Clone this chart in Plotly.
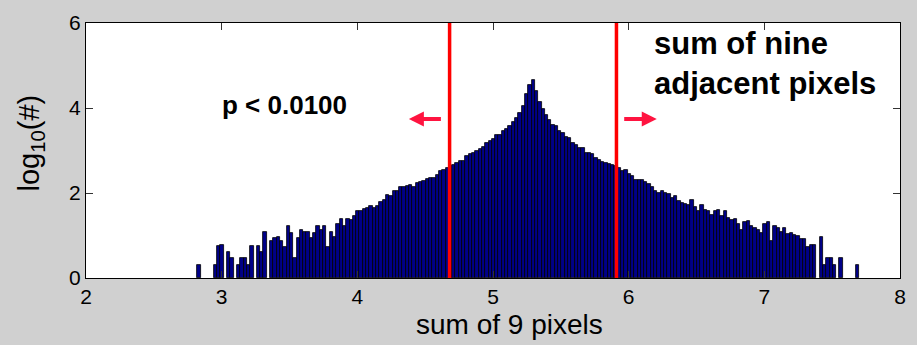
import numpy as np
import plotly.graph_objects as go

# ---- data: log10 counts per histogram bin (200 bins) ----
bin_start = 2.82
bin_width = 0.0244

seg_a = [0.30, 0, 0, 0, 0, 0.30, 0.75, 0.78, 0, 0.62, 0.48, 0, 0.30, 0.48, 0.48, 0.30,
         0.75, 0, 0.75, 0.62, 1.08, 0, 0.87, 0.93, 0.96, 0.87, 0.74, 1.22, 1.06, 0.48,
         0.93, 1.12, 1.08]
seg_b = [1.08, 0.93, 1.06, 1.22, 1.14, 1.22, 0.74, 1.08, 0.97, 1.27, 1.40, 1.22, 1.40,
         1.36, 1.45, 1.58, 1.58, 1.62, 1.65, 1.70, 1.65, 1.70, 1.80, 1.84, 1.96, 1.92,
         2.04, 2.05, 2.14, 2.14, 2.16, 2.19, 2.14, 2.24, 2.27]
seg_c = [2.28, 2.32, 2.35, 2.35, 2.43, 2.51, 2.55, 2.59, 2.64, 2.67, 2.70, 2.75, 2.75,
         2.88, 2.91, 2.95, 2.98, 3.03, 3.09, 3.17, 3.22, 3.27, 3.36, 3.37, 3.45, 3.51,
         3.58, 3.68, 3.77, 3.88, 4.05, 4.32, 4.53, 4.65, 4.40]
seg_d = [4.15, 3.97, 3.84, 3.72, 3.61, 3.57, 3.45, 3.42, 3.32, 3.30, 3.17, 3.12, 3.07,
         3.05, 2.95, 2.95, 2.91, 2.82, 2.78, 2.72, 2.70, 2.69, 2.66, 2.64, 2.58, 2.51,
         2.54, 2.45, 2.39, 2.30, 2.30, 2.30, 2.25, 2.21]
seg_e = [2.15, 2.05, 1.99, 2.05, 2.01, 1.97, 1.88, 1.92, 1.82, 1.76, 1.75, 1.71, 1.83,
         1.66, 1.57, 1.71, 1.61, 1.57, 1.48, 1.57, 1.61, 1.45, 1.57, 1.42, 1.37, 1.40,
         1.26, 1.14, 1.32, 1.35, 1.22, 1.18, 1.12, 1.06]
seg_f = [1.26, 1.32, 0.88, 1.22, 1.18, 1.08, 1.18, 1.03, 1.06, 1.01, 0.98, 0.92, 0.92,
         0.74, 0.78, 0.78, 0, 0.97, 0.30, 0.48, 0.48, 0.30, 0, 0.48, 0, 0, 0, 0, 0.30]

log_counts = seg_a + seg_b + seg_c + seg_d + seg_e + seg_f

thresholds = [4.68, 5.91]          # red cut-off lines
arrow_y = 3.74
left_arrow = (4.627, 4.38)          # tail, head
right_arrow = (5.956, 6.207)        # tail, head

x_ticks = [2, 3, 4, 5, 6, 7, 8]
y_ticks = [0, 2, 4, 6]

BG = "#d0d0d0"

# ---- figure ----
n = len(log_counts)
centers = bin_start + bin_width * (np.arange(n) + 0.5)
heights = [v if v > 0 else None for v in log_counts]

fig = go.Figure()
fig.add_trace(go.Bar(
    x=centers, y=heights, width=bin_width,
    marker=dict(color="#000088", line=dict(color="black", width=0.8)),
    showlegend=False, hoverinfo="skip",
))

for t in thresholds:
    fig.add_shape(type="line", x0=t, x1=t, xref="x", y0=0, y1=1, yref="paper",
                  line=dict(color="#ff0000", width=3.5))

arrow_col = "#ff1440"
for tail, head in (left_arrow, right_arrow):
    fig.add_annotation(x=head, y=arrow_y, ax=tail, ay=arrow_y, axref="x", ayref="y",
                       xref="x", yref="y", text="", showarrow=True,
                       arrowhead=2, arrowwidth=4, arrowsize=0.75, arrowcolor=arrow_col)

font_fam = "Liberation Sans, Arial, sans-serif"
fig.add_annotation(x=3.46, y=4.08, xref="x", yref="y", text="<b>p < 0.0100</b>",
                   showarrow=False, font=dict(family=font_fam, size=26, color="black"),
                   xanchor="center", yanchor="middle")
fig.add_annotation(x=6.17, y=5.05, xref="x", yref="y",
                   text="<b>sum of nine<br>adjacent pixels</b>",
                   showarrow=False, font=dict(family=font_fam, size=31, color="black"),
                   xanchor="left", yanchor="middle", align="left")

# axis titles
fig.add_annotation(x=0.52, y=-0.181, xref="paper", yref="paper", text="sum of 9 pixels",
                   showarrow=False, font=dict(family=font_fam, size=28, color="black"),
                   xanchor="center", yanchor="middle")
fig.add_annotation(x=-0.068, y=0.53, xref="paper", yref="paper",
                   text="log<sub>10</sub>(#)", textangle=-90,
                   showarrow=False, font=dict(family=font_fam, size=29, color="black"),
                   xanchor="center", yanchor="middle")

axis_common = dict(showline=True, linecolor="black", linewidth=1, mirror="allticks",
                   ticks="inside", ticklen=7, tickcolor="#333333", tickwidth=1,
                   showgrid=False, zeroline=False,
                   tickfont=dict(family=font_fam, size=21, color="black"))

fig.update_xaxes(range=[2, 8], tickvals=x_ticks, ticktext=[str(v) for v in x_ticks],
                 **axis_common)
fig.update_yaxes(range=[0, 6], tickvals=y_ticks, ticktext=[str(v) for v in y_ticks],
                 **axis_common)

fig.update_layout(
    width=917, height=345,
    margin=dict(l=86, r=11, t=18, b=67),
    paper_bgcolor=BG, plot_bgcolor="white",
    bargap=0, barmode="overlay",
)

fig.write_html(
    "out.html",
    config={"displayModeBar": False},
    post_script=("document.body.style.margin='0px';"
                 "document.body.style.padding='0px';"
                 "document.body.style.background='" + BG + "';"),
)
